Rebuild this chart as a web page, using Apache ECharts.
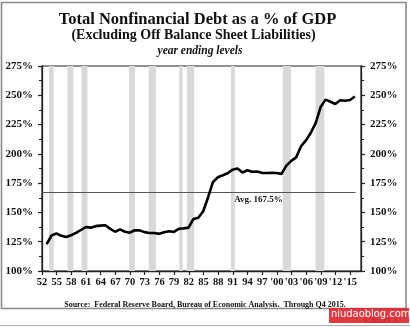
<!DOCTYPE html>
<html>
<head>
<meta charset="utf-8">
<script src="https://cdn.jsdelivr.net/npm/echarts@6/dist/echarts.min.js"></script>
<style>
html,body{margin:0;padding:0;background:#fff;}
#c{width:410px;height:327px;}
</style>
</head>
<body>
<div id="c"></div>
<script>
// ---- data ----
const years = [1952,1953,1954,1955,1956,1957,1958,1959,1960,1961,1962,1963,1964,1965,1966,1967,1968,1969,1970,1971,1972,1973,1974,1975,1976,1977,1978,1979,1980,1981,1982,1983,1984,1985,1986,1987,1988,1989,1990,1991,1992,1993,1994,1995,1996,1997,1998,1999,2000,2001,2002,2003,2004,2005,2006,2007,2008,2009,2010,2011,2012,2013,2014,2015];
const debtPct = [123,130.3,132,130,129,130.5,132.5,135,137.5,137,138.3,138.7,139,136,133.5,135.5,133.5,132.7,134.8,134.7,133.2,132.5,132.4,131.7,133,134,133.4,136,136.4,137,144.4,145.5,151,163,176,180,181.7,183.5,186.5,187.6,184,186,184.7,185,183.8,183.6,183.9,183.7,182.9,190,194,197,206.5,211.5,218,226.5,240,246.3,244.5,242.6,245.8,245.3,246,249];
const yearEndOffset = 0.95; // Q4 reading plotted at end of year
const recessions = [[1953.45,1954.4],[1957.2,1958.4],[1960.1,1961.3],[1969.8,1971.0],[1973.8,1975.3],[1980.05,1980.75],[1981.6,1983.1],[1990.6,1991.4],[2001.2,2002.9],[2007.9,2009.7]];
const avgValue = 167.5;
const avgSpan = [1952, 2016.1];
const xTickYears = [1952,1955,1958,1961,1964,1967,1970,1973,1976,1979,1982,1985,1988,1991,1994,1997,2000,2003,2006,2009,2012,2015];
const xTickLabels = ['52','55','58','61','64','67','70','73','76','79','82','85','88','91','94','97',"'00","'03","'06","'09","'12","'15"];
const yTicks = [100,125,150,175,200,225,250,275];

const SERIF = '"Liberation Serif","Times New Roman",serif';
const lineData = years.map((y,i)=>[y+yearEndOffset, debtPct[i]]);
const labelMap = {};
xTickYears.forEach((y,i)=>{labelMap[y]=xTickLabels[i];});

const chart = echarts.init(document.getElementById('c'), null, {renderer:'canvas'});
const yAxisBase = {
  type:'value', min:yTicks[0], max:yTicks[yTicks.length-1], interval:25,
  axisLine:{show:true, lineStyle:{color:'#222', width:1.3}},
  axisTick:{show:true, length:4, lineStyle:{color:'#222', width:1.2}},
  minorTick:{show:true, splitNumber:2, length:3, lineStyle:{color:'#222', width:1}},
  splitLine:{show:false},
  axisLabel:{formatter:'{value}%', fontFamily:SERIF, fontWeight:'bold', fontSize:11, color:'#111', margin:9}
};
chart.setOption({
  animation:false,
  backgroundColor:'#fff',
  title:[
    {text:'Source:  Federal Reserve Board, Bureau of Economic Analysis.  Through Q4 2015.', left:'center', top:296,
     textStyle:{fontFamily:SERIF, fontWeight:'bold', fontSize:8, color:'#111'}}
  ],
  grid:{left:42, right:49, top:66, bottom:56, show:true, borderColor:'#222', borderWidth:1.2, backgroundColor:'transparent'},
  xAxis:{
    type:'value', min:1952, max:2017.2,
    axisLine:{show:true, lineStyle:{color:'#222', width:1.3}},
    axisTick:{show:true, length:4, customValues:xTickYears, lineStyle:{color:'#222', width:1.2}},
    splitLine:{show:false},
    axisLabel:{customValues:xTickYears, formatter:v=>labelMap[Math.round(v)]||'', fontFamily:SERIF, fontWeight:'bold', fontSize:10.5, color:'#111', margin:6}
  },
  yAxis:[
    Object.assign({}, yAxisBase, {position:'left'}),
    Object.assign({}, yAxisBase, {position:'right'})
  ],
  series:[{
    type:'line', data:lineData, symbol:'none', z:5,
    lineStyle:{color:'#000', width:2.6},
    markArea:{silent:true, itemStyle:{color:'#d9d9d9'},
      data:recessions.map(r=>[{xAxis:r[0]},{xAxis:r[1]}])},
    markLine:{silent:true, symbol:'none', label:{show:false},
      lineStyle:{color:'#555', width:1, type:'solid'},
      data:[[{coord:[avgSpan[0],avgValue]},{coord:[avgSpan[1],avgValue]}]]}
  }]
});
const p = chart.convertToPixel({xAxisIndex:0, yAxisIndex:0}, [1991.3, avgValue]);
chart.setOption({
  graphic:[
    {type:'text', x:197.5, y:20, z:10,
     style:{text:'Total Nonfinancial Debt as a % of GDP', font:'bold 16.5px '+SERIF, fill:'#111', align:'center', verticalAlign:'middle'}},
    {type:'text', x:193.5, y:35.5, z:10,
     style:{text:'(Excluding Off Balance Sheet Liabilities)', font:'bold 14px '+SERIF, fill:'#111', align:'center', verticalAlign:'middle'}},
    {type:'text', x:200, y:51.5, z:10,
     style:{text:'year ending levels', font:'italic bold 11.5px '+SERIF, fill:'#111', align:'center', verticalAlign:'middle'}},
    {type:'text', left:p[0], top:p[1]+3, z:10,
     style:{text:'Avg. 167.5%', font:'bold 9px '+SERIF, fill:'#111'}},
    {type:'rect', shape:{x:1.5, y:2.5, width:404.5, height:306}, z:1,
     style:{fill:'none', stroke:'#8a8a8a', lineWidth:1.6}},
    {type:'line', shape:{x1:0, y1:325.5, x2:410, y2:325.5}, z:1,
     style:{stroke:'#b0b0b0', lineWidth:1}},
    {type:'text', left:364, top:315, z:20,
     style:{text:'Chart 1', font:'italic bold 11px '+SERIF, fill:'#b23a3a'}},
    {type:'rect', shape:{x:329, y:308, width:80, height:15}, z:30,
     style:{fill:'rgba(222,36,44,0.9)'}},
    {type:'text', left:331, top:309, z:31,
     style:{text:'niudaoblog.com', font:'11px "DejaVu Sans Condensed","Liberation Sans Narrow",sans-serif', fill:'#fff'}}
  ]
});
</script>
</body>
</html>
